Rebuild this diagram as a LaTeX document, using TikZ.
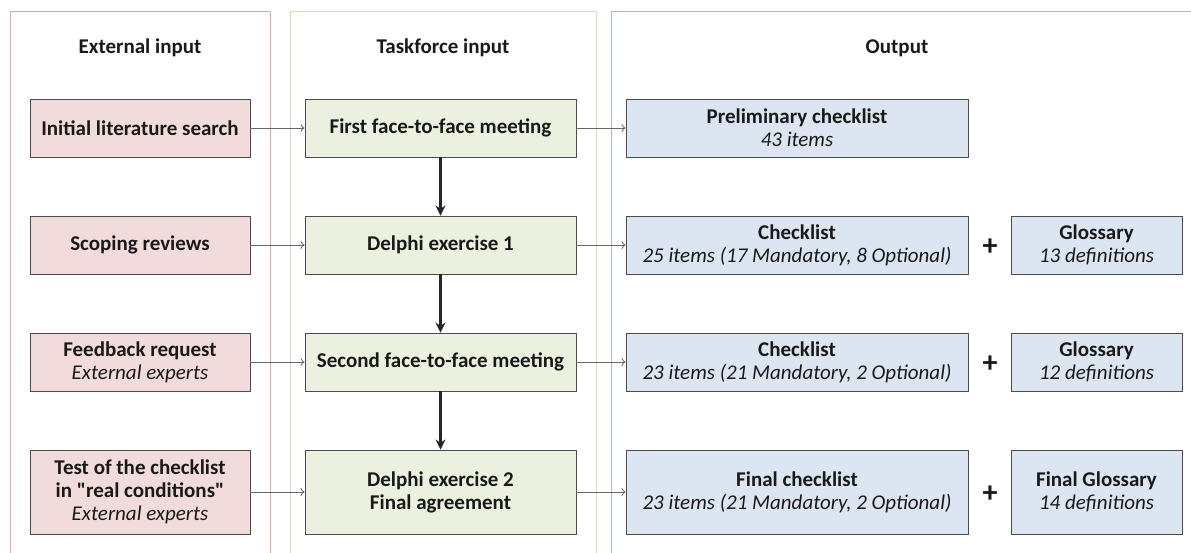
\documentclass[tikz,border=0pt]{standalone}
\usepackage{fontspec}
\setmainfont{Carlito}[Ligatures=TeXOff]
\usepackage{tikz}
\definecolor{extfill}{HTML}{F2DCDB}
\definecolor{extborder}{HTML}{D8A9A7}
\definecolor{taskfill}{HTML}{EBF1DE}
\definecolor{taskborder}{HTML}{D5DDB5}
\definecolor{outfill}{HTML}{DCE6F2}
\definecolor{outborder}{HTML}{A9BCD8}
\usetikzlibrary{positioning, arrows, arrows.meta}
\tikzstyle{arrow} = [line width=0.8pt,-{To[length=4pt,width=8pt]},draw=black!60]
\tikzstyle{flow} = [line width=2.2pt,-{Stealth[length=10pt,width=10pt]},draw=black!85]

\begin{document}
\begin{tikzpicture}[x=1pt,y=-1pt]
                    \tikzstyle{every node}=[font=\fontsize{21}{23}\selectfont, text=black!90]
                    \tikzstyle{box} = [rectangle, draw=black!70, line width=0.9pt, align=center, minimum height=58pt, inner sep=2pt]
                    \tikzstyle{extbox} = [box, fill=extfill, minimum width=220pt]
                    \tikzstyle{taskbox} = [box, fill=taskfill, minimum width=271pt]
                    \tikzstyle{outbox} = [box, fill=outfill, minimum width=342pt]
                    \tikzstyle{glossbox} = [box, fill=outfill, minimum width=171pt]
                    \tikzstyle{tall} = [minimum height=84pt]
                    \tikzstyle{heading} = [font=\fontsize{21}{23}\selectfont\bfseries]
                    \tikzstyle{plus} = [font=\fontsize{30}{30}\selectfont\bfseries]

                    \useasboundingbox (0,0) rectangle (1191,553);
                    % columns
                    \draw[extborder] (10,570) -- (10,11) -- (270,11) -- (270,570);
                    \draw[taskborder] (290,570) -- (290,11) -- (596,11) -- (596,570);
                    \draw[outborder] (611,570) -- (611,11) -- (1200,11);

                    \node[heading](hext) at (140,48) {External input};
                    \node[heading](htask) at (443,48) {Taskforce input};
                    \node[heading](hout) at (897,48) {Output};

                    % external input
                    \node[extbox](ext1) at (140,128) {\textbf{Initial literature search}};
                    \node[extbox](ext2) at (140,245) {\textbf{Scoping reviews}};
                    \node[extbox](ext3) at (140,362) {\textbf{Feedback request}\\\textit{External experts}};
                    \node[extbox, tall](ext4) at (140,492) {\textbf{Test of the checklist}\\\textbf{in "real conditions"}\\\textit{External experts}};

                    % taskforce input
                    \node[taskbox](task1) at (440.5,128) {\textbf{First face-to-face meeting}};
                    \node[taskbox](task2) at (440.5,245) {\textbf{Delphi exercise 1}};
                    \node[taskbox](task3) at (440.5,362) {\textbf{Second face-to-face meeting}};
                    \node[taskbox, tall](task4) at (440.5,492) {\textbf{Delphi exercise 2}\\\textbf{Final agreement}};

                    % output
                    \node[outbox](out1) at (797,128) {\textbf{Preliminary checklist}\\\textit{43 items}};
                    \node[outbox](out2) at (797,245) {\textbf{Checklist}\\\textit{25 items (17 Mandatory, 8 Optional)}};
                    \node[outbox](out3) at (797,362) {\textbf{Checklist}\\\textit{23 items (21 Mandatory, 2 Optional)}};
                    \node[outbox, tall](out4) at (797,492) {\textbf{Final checklist}\\\textit{23 items (21 Mandatory, 2 Optional)}};

                    \node[glossbox](gloss2) at (1096.5,245) {\textbf{Glossary}\\\textit{13 definitions}};
                    \node[glossbox](gloss3) at (1096.5,362) {\textbf{Glossary}\\\textit{12 definitions}};
                    \node[glossbox, tall](gloss4) at (1096.5,492) {\textbf{Final Glossary}\\\textit{14 definitions}};

                    \node[plus](plus2) at (990,247) {+};
                    \node[plus](plus3) at (990,364) {+};
                    \node[plus](plus4) at (990,494) {+};

                    % connectors
                    \foreach \i in {1,...,4} {
                        \draw[arrow] (ext\i) -- (task\i);
                        \draw[arrow] (task\i) -- (out\i);
                    }
                    \draw[flow] (task1) -- (task2);
                    \draw[flow] (task2) -- (task3);
                    \draw[flow] (task3) -- (task4);
            \end{tikzpicture}
\end{document}
